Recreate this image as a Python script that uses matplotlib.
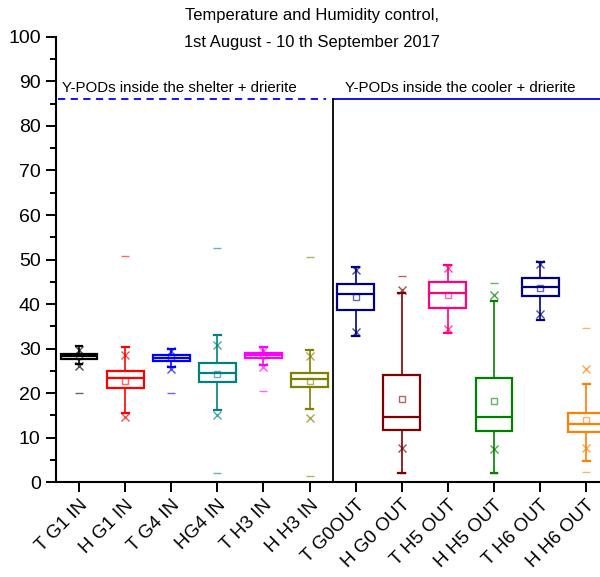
import numpy as np
import matplotlib.pyplot as plt
from matplotlib.ticker import MultipleLocator
from matplotlib.transforms import ScaledTranslation

plt.rcParams['font.family'] = ['Liberation Sans', 'DejaVu Sans']

labels = ['T G1 IN', 'H G1 IN', 'T G4 IN', 'HG4 IN', 'T H3 IN', 'H H3 IN',
          'T G0OUT', 'H G0 OUT', 'T H5 OUT', 'H H5 OUT', 'T H6 OUT', 'H H6 OUT']
colors = ['#000000', '#ff0000', '#0000ff', '#008080', '#ff00ff', '#808000',
          '#000080', '#800000', '#ff0080', '#008000', '#000080', '#ff8000']

q1 = [27.7, 21.1, 27.3, 22.5, 27.9, 21.3, 38.7, 11.8, 39.2, 11.5, 41.9, 11.2]
med = [28.3, 23.4, 27.9, 24.6, 28.5, 23.2, 42.2, 14.7, 42.5, 14.5, 43.9, 13.0]
q3 = [28.8, 24.9, 28.5, 26.8, 29.1, 24.6, 44.6, 24.0, 44.9, 23.3, 45.8, 15.4]
whislo = [26.6, 15.4, 25.9, 16.1, 26.3, 16.3, 32.8, 2.1, 33.4, 2.1, 36.3, 4.7]
whishi = [30.6, 30.4, 30.0, 33.0, 30.3, 29.7, 48.4, 42.4, 48.8, 40.7, 49.4, 22.0]
p1 = [26.1, 14.5, 25.4, 15.1, 25.9, 14.3, 33.6, 7.6, 34.3, 7.4, 37.8, 7.7]
p99 = [29.7, 28.6, 29.4, 30.9, 29.5, 28.3, 47.6, 43.1, 48.0, 42.0, 48.9, 25.4]
means = [28.4, 22.8, 28.0, 24.2, 28.5, 22.7, 41.5, 18.7, 42.0, 18.1, 43.7, 13.9]
mins = [20.1, np.nan, 19.9, 2.1, 20.4, 1.3, np.nan, 2.1, np.nan, 2.1, np.nan, 2.3]
maxs = [np.nan, 50.9, np.nan, 52.6, np.nan, 50.6, np.nan, 46.3, np.nan, 44.8, np.nan, 34.7]

fig = plt.figure(figsize=(6, 5.77), dpi=100)
ax = fig.add_axes([0.0933, 0.1646, 0.9067, 0.7713])
pos = np.arange(1, len(labels) + 1)

stats = [dict(q1=a, med=m, q3=b, whislo=lo, whishi=hi, fliers=[])
         for a, m, b, lo, hi in zip(q1, med, q3, whislo, whishi)]
bp = ax.bxp(stats, positions=pos, widths=0.8, showfliers=False,
            patch_artist=True, capwidths=0.15)
for i, c in enumerate(colors):
    bp['boxes'][i].set(facecolor='white', edgecolor=c, linewidth=1.6)
    bp['medians'][i].set(color=c, linewidth=1.6)
    for w in bp['whiskers'][2 * i:2 * i + 2]:
        w.set(color=c, linewidth=1.2)
    for cp in bp['caps'][2 * i:2 * i + 2]:
        cp.set(color=c, linewidth=1.6)
    ax.plot(pos[i], p1[i], 'x', color=c, ms=6, mew=1, alpha=0.7)
    ax.plot(pos[i], p99[i], 'x', color=c, ms=6, mew=1, alpha=0.7)
    ax.plot(pos[i], means[i], 's', mfc='none', mec=c, ms=5, mew=1, alpha=0.6)
    ax.plot(pos[i], mins[i], '_', color=c, ms=6, mew=1, alpha=0.6)
    ax.plot(pos[i], maxs[i], '_', color=c, ms=6, mew=1, alpha=0.6)

# group separators
ax.plot([0.55, 6.35], [86, 86], color='#0000ff', ls=(0, (4, 3)), lw=1.3)
ax.plot([6.5, 12.4], [86, 86], color='#0000ff', lw=1.3)
ax.plot([6.5, 6.5], [0, 86], color='black', lw=1.3)
ax.text(3.18, 88.6, 'Y-PODs inside the shelter + drierite', ha='center',
        va='center', fontsize=10.8)
ax.text(9.26, 88.6, 'Y-PODs inside the cooler + drierite', ha='center',
        va='center', fontsize=10.8)

ax.set_xlim(0.5, 12.3)
ax.set_ylim(0, 100)
ax.set_xticks(pos)
ax.set_xticklabels(labels, rotation=45, ha='right', rotation_mode='anchor',
                   fontsize=13.5)
shift = ScaledTranslation(0.08, -0.05, fig.dpi_scale_trans)
for lab in ax.get_xticklabels():
    lab.set_transform(lab.get_transform() + shift)
ax.yaxis.set_major_locator(MultipleLocator(10))
ax.yaxis.set_minor_locator(MultipleLocator(5))
ax.tick_params(axis='y', labelsize=14, pad=4)
ax.tick_params(which='major', direction='out', length=7, width=1.4)
ax.tick_params(which='minor', direction='out', length=4, width=1.4)
for s in ['top', 'right']:
    ax.spines[s].set_visible(False)
for s in ['left', 'bottom']:
    ax.spines[s].set_linewidth(1.5)

fig.text(0.52, 0.973, 'Temperature and Humidity control,', ha='center',
         va='center', fontsize=11.9)
fig.text(0.52, 0.926, '1st August - 10 th September 2017', ha='center',
         va='center', fontsize=11.9)

fig.savefig('out.png', dpi=100)
